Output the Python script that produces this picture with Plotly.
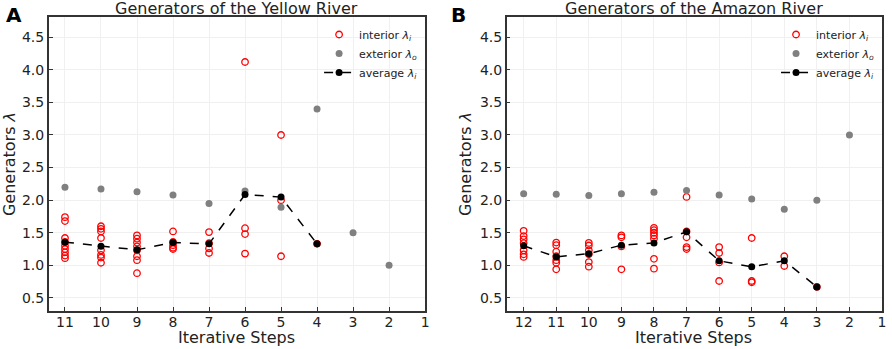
import plotly.graph_objects as go

# ---------------- data ----------------
yellow_int_steps = [11]*9 + [10]*8 + [9]*8 + [8]*5 + [7]*4 + [6]*4 + [5]*3 + [4]
yellow_int_vals = [1.74, 1.68, 1.42, 1.36, 1.30, 1.25, 1.20, 1.15, 1.11,
                   1.60, 1.56, 1.52, 1.42, 1.23, 1.16, 1.12, 1.04,
                   1.46, 1.41, 1.35, 1.29, 1.23, 1.14, 1.08, 0.88,
                   1.52, 1.36, 1.31, 1.27, 1.25,
                   1.51, 1.34, 1.26, 1.19,
                   4.12, 1.57, 1.48, 1.18,
                   3.00, 2.00, 1.14,
                   1.33]
yellow_ext_steps = [11, 10, 9, 8, 7, 6, 5, 4, 3, 2]
yellow_ext_vals = [2.20, 2.17, 2.13, 2.08, 1.95, 2.14, 1.89, 3.40, 1.50, 1.00]
yellow_avg_steps = [11, 10, 9, 8, 7, 6, 5, 4]
yellow_avg_vals = [1.356, 1.294, 1.238, 1.351, 1.33, 2.087, 2.047, 1.33]

amazon_int_steps = [12]*7 + [11]*7 + [10]*6 + [9]*4 + [8]*7 + [7]*5 + [6]*4 + [5]*3 + [4]*2 + [3]
amazon_int_vals = [1.53, 1.45, 1.40, 1.34, 1.23, 1.17, 1.13,
                   1.35, 1.31, 1.21, 1.14, 1.08, 1.04, 0.94,
                   1.345, 1.305, 1.23, 1.17, 1.05, 0.98,
                   1.46, 1.43, 1.29, 0.94,
                   1.575, 1.54, 1.50, 1.46, 1.41, 1.10, 0.95,
                   2.05, 1.52, 1.43, 1.28, 1.25,
                   1.28, 1.19, 1.045, 0.76,
                   1.42, 0.76, 0.74,
                   1.14, 0.99,
                   0.67]
amazon_ext_steps = [12, 11, 10, 9, 8, 7, 6, 5, 4, 3, 2]
amazon_ext_vals = [2.10, 2.09, 2.07, 2.10, 2.12, 2.15, 2.08, 2.02, 1.86, 2.00, 3.00]
amazon_avg_steps = [12, 11, 10, 9, 8, 7, 6, 5, 4, 3]
amazon_avg_vals = [1.30, 1.13, 1.18, 1.31, 1.345, 1.515, 1.07, 0.977, 1.07, 0.67]

y_ticks = [0.5, 1.0, 1.5, 2.0, 2.5, 3.0, 3.5, 4.0, 4.5]
y_ticklabels = ["0.5", "1.0", "1.5", "2.0", "2.5", "3.0", "3.5", "4.0", "4.5"]

FONT = "DejaVu Sans"
fig = go.Figure()

def add_panel(xa, ya, legend, isx, isv, esx, esv, asx, asv):
    fig.add_trace(go.Scatter(x=isx, y=isv, mode="markers", xaxis=xa, yaxis=ya,
                             name="interior <i>λ<sub>i</sub></i>", legend=legend,
                             marker=dict(symbol="circle-open", size=6.5, color="#ff0000",
                                         line=dict(width=1.3, color="#ff0000"))))
    fig.add_trace(go.Scatter(x=esx, y=esv, mode="markers", xaxis=xa, yaxis=ya,
                             name="exterior <i>λ<sub>o</sub></i>", legend=legend,
                             marker=dict(symbol="circle", size=7, color="#808080")))
    fig.add_trace(go.Scatter(x=asx, y=asv, mode="lines+markers", xaxis=xa, yaxis=ya,
                             name="average <i>λ<sub>i</sub></i>", legend=legend,
                             line=dict(color="black", width=1.5, dash="dash"),
                             marker=dict(symbol="circle", size=7, color="black")))

add_panel("x", "y", "legend", yellow_int_steps, yellow_int_vals, yellow_ext_steps,
          yellow_ext_vals, yellow_avg_steps, yellow_avg_vals)
add_panel("x2", "y2", "legend2", amazon_int_steps, amazon_int_vals, amazon_ext_steps,
          amazon_ext_vals, amazon_avg_steps, amazon_avg_vals)

axis_common = dict(showline=True, linecolor="#333333", linewidth=1.5, mirror=True,
                   ticks="inside", ticklen=4, tickcolor="#333333",
                   showgrid=True, gridcolor="#f0f0f0", gridwidth=1, zeroline=False,
                   tickfont=dict(family=FONT, size=14, color="#222222"))

ydom = [1 - 311/349, 1 - 17/349]
fig.update_layout(
    width=892, height=349,
    margin=dict(l=0, r=0, t=0, b=0),
    paper_bgcolor="white", plot_bgcolor="white",
    font=dict(family=FONT, color="#222222"),
    xaxis=dict(domain=[49/892, 427/892], range=[11.45, 1], tickmode="array",
               tickvals=list(range(1, 12)), ticktext=[str(v) for v in range(1, 12)],
               ticklabelstandoff=-3,
               anchor="y", **axis_common),
    yaxis=dict(domain=ydom, range=[0.3, 4.81], tickmode="array", tickvals=y_ticks,
               ticktext=y_ticklabels,
               title=dict(text="Generators <i>λ</i>", font=dict(family=FONT, size=16), standoff=4),
               anchor="x", **axis_common),
    xaxis2=dict(domain=[509/892, 886/892], range=[12.52, 1], tickmode="array",
                tickvals=list(range(1, 13)), ticktext=[str(v) for v in range(1, 13)],
                ticklabelstandoff=-3,
                anchor="y2", **axis_common),
    yaxis2=dict(domain=ydom, range=[0.3, 4.81], tickmode="array", tickvals=y_ticks,
                ticktext=y_ticklabels,
                title=dict(text="Generators <i>λ</i>", font=dict(family=FONT, size=16), standoff=4),
                anchor="x2", **axis_common),
    legend=dict(x=425/892, y=1 - 20/349, xanchor="right", yanchor="top",
                bgcolor="rgba(255,255,255,0)", font=dict(family=FONT, size=11),
                tracegroupgap=0, itemwidth=30),
    legend2=dict(x=884/892, y=1 - 20/349, xanchor="right", yanchor="top",
                 bgcolor="rgba(255,255,255,0)", font=dict(family=FONT, size=11),
                 tracegroupgap=0, itemwidth=30),
    annotations=[
        dict(text="Generators of the Yellow River", x=238/892, y=1 - 9/349, xref="paper",
             yref="paper", xanchor="center", yanchor="middle", showarrow=False,
             font=dict(family=FONT, size=16)),
        dict(text="Generators of the Amazon River", x=697/892, y=1 - 9/349, xref="paper",
             yref="paper", xanchor="center", yanchor="middle", showarrow=False,
             font=dict(family=FONT, size=16)),
        dict(text="Iterative Steps", x=238/892, y=0, xref="paper", yref="paper",
             xanchor="center", yanchor="bottom", showarrow=False,
             font=dict(family=FONT, size=16)),
        dict(text="Iterative Steps", x=697/892, y=0, xref="paper", yref="paper",
             xanchor="center", yanchor="bottom", showarrow=False,
             font=dict(family=FONT, size=16)),
        dict(text="<b>A</b>", x=4/892, y=1 - 15/349, xref="paper", yref="paper",
             xanchor="left", yanchor="middle", showarrow=False,
             font=dict(family=FONT, size=20, color="black")),
        dict(text="<b>B</b>", x=451/892, y=1 - 15/349, xref="paper", yref="paper",
             xanchor="left", yanchor="middle", showarrow=False,
             font=dict(family=FONT, size=20, color="black")),
    ],
)

fig.write_html("out.html", config={"displayModeBar": False},
               post_script="document.body.style.margin='0';document.body.style.padding='0';")
